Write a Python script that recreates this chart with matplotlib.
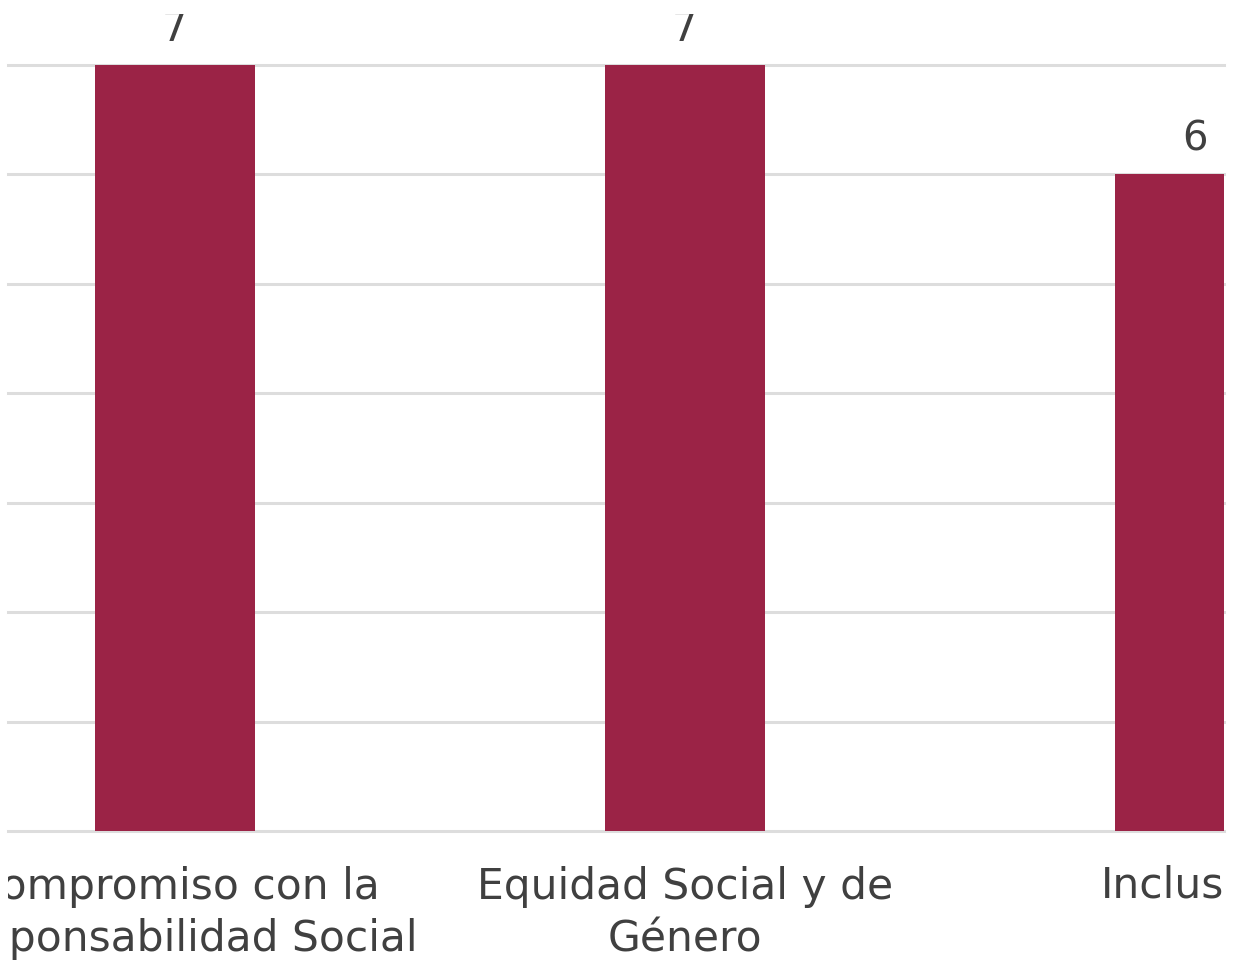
import matplotlib
matplotlib.use("Agg")
import matplotlib.pyplot as plt
from matplotlib.transforms import Bbox, TransformedBbox, offset_copy

categories = ["Compromiso con la\nResponsabilidad Social", "Equidad Social y de\nGénero", "Inclusión"]
values = [7, 7, 6]
yticks = [0, 1, 2, 3, 4, 5, 6, 7]

W, H = 1235, 964
fig = plt.figure(figsize=(W / 100, H / 100), dpi=100)
fig.patch.set_facecolor("white")

left_px, right_px = 8, 1224
top_px, bottom_px = 14, 831
ax = fig.add_axes([left_px / W, (H - bottom_px) / H, (right_px - left_px) / W, (bottom_px - top_px) / H])

bar_color = "#9B2346"
text_color = "#404040"
grid_color = "#DDDDDD"
font = "DejaVu Sans"

x = list(range(len(categories)))
ax.bar(x, values, width=0.314, color=bar_color, zorder=3)

ax.set_xlim(-0.3275, 2.057)
ax.set_ylim(0, 7 + 51 / 109.43)
ax.set_yticks(yticks)
ax.yaxis.grid(True, color=grid_color, linewidth=2.2, zorder=0)
for gl in ax.get_ygridlines():
    gl.set_clip_on(False)
ax.set_xticks([])
ax.tick_params(axis="y", length=0, labelleft=False)
for s in ax.spines.values():
    s.set_visible(False)

clip = TransformedBbox(Bbox([[left_px / W, 0], [right_px / W, 1 - top_px / H]]), fig.transFigure)

for xi, v in zip(x, values):
    t = ax.annotate(str(v), (xi, v), xytext=(0, 11), textcoords="offset points",
                    ha="center", va="bottom", fontsize=29, color=text_color,
                    family=font, annotation_clip=False)
    t.set_clip_box(clip)
    t.set_clip_on(True)

for xi, lab in zip(x, categories):
    t = ax.text(xi, 0, lab, ha="center", va="top",
                fontsize=30.5, color=text_color, family=font, linespacing=1.32,
                transform=offset_copy(ax.get_xaxis_transform(), fig=fig, x=0, y=-25, units="points"))
    t.set_clip_box(clip)
    t.set_clip_on(True)

fig.savefig("out.png", dpi=100, facecolor="white")
